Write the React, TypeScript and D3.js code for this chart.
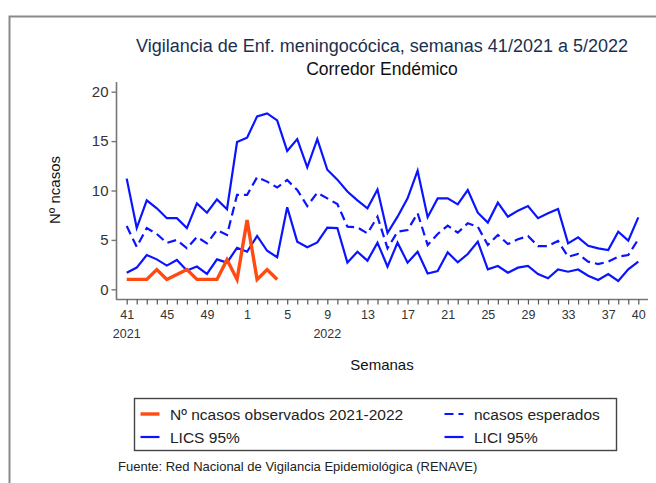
import React, { useEffect, useRef } from 'react';
import * as d3 from 'd3';

// Semanas epidemiológicas: 41-52 de 2021 y 1-40 de 2022
const weeks2021 = d3.range(41, 53);
const weeks2022 = d3.range(1, 41);
const weekLabels = [...weeks2021, ...weeks2022];
const majorTicks = [41, 45, 49, 1, 5, 9, 13, 17, 21, 25, 29, 33, 37, 40];

// Nº ncasos observados 2021-2022 (hasta semana 4/2022)
const observed = [1, 1, 1, 2, 1, 1.5, 2, 1, 1, 1, 3, 1, 7, 1, 2, 1];

// ncasos esperados
const expected = [
  6.4, 4.3, 6.2, 5.6, 4.7, 5.0, 4.15, 5.3, 4.65, 6.0, 5.5, 9.55,
  9.55, 11.35, 10.9, 10.3, 11.06, 10.05, 8.43, 9.78, 9.2, 8.63, 6.34, 6.27,
  5.66, 7.35, 4.15, 5.83, 6.0, 7.7, 4.48, 5.6, 6.44, 5.73, 6.68, 6.34,
  4.48, 5.5, 4.58, 5.06, 5.39, 4.38, 4.38, 4.89, 3.3, 3.57, 2.8, 2.56,
  2.8, 3.3, 3.47, 5.06
];

// LICS 95%
const lics = [
  11.2, 6.2, 9.0, 8.2, 7.2, 7.2, 6.2, 8.7, 7.75, 9.1, 8.1, 14.9,
  15.35, 17.5, 17.8, 17.1, 14.0, 15.2, 12.35, 15.2, 12.1, 11.1, 9.9, 9.0,
  8.2, 10.1, 5.7, 7.35, 9.2, 12.0, 7.3, 9.2, 9.2, 8.6, 10.05, 7.75,
  6.75, 8.77, 7.35, 7.96, 8.43, 7.2, 7.7, 8.13, 4.65, 5.26, 4.4, 4.15,
  3.98, 5.83, 4.92, 7.28
];

// LICI 95%
const lici = [
  1.68, 2.2, 3.47, 3.03, 2.4, 2.97, 1.9, 2.3, 1.55, 3.03, 2.7, 4.2,
  3.8, 5.4, 3.9, 3.24, 8.3, 4.82, 4.25, 4.75, 6.24, 6.2, 2.7, 3.8,
  2.9, 4.72, 2.3, 4.72, 2.7, 3.8, 1.6, 1.85, 3.74, 2.73, 3.57, 4.82,
  2.02, 2.36, 1.68, 2.19, 2.36, 1.55, 1.11, 2.02, 1.78, 2.0, 1.38, 0.94,
  1.55, 0.84, 2.02, 2.8
];

const yTicks = [0, 5, 10, 15, 20];

const BLUE = '#0a14ff';
const ORANGE = '#ff4a12';
const FONT = '"Liberation Sans", Arial, Helvetica, sans-serif';

const App = () => {
  const ref = useRef<SVGSVGElement | null>(null);

  useEffect(() => {
    if (!ref.current) return;
    const svg = d3.select(ref.current);
    svg.selectAll('*').remove();

    // Marco exterior del gráfico (recortado a la derecha y abajo)
    svg.append('rect')
      .attr('x', 9.5)
      .attr('y', 16.5)
      .attr('width', 700)
      .attr('height', 500)
      .attr('fill', 'white')
      .attr('stroke', '#8a8a8a')
      .attr('stroke-width', 2);

    // Escalas
    const x = d3.scaleLinear().domain([0, weekLabels.length - 1]).range([126.7, 638.3]);
    const y = d3.scaleLinear().domain([0, 20]).range([289.3, 91.7]);
    const plotCenter = 382;

    // Títulos (centrados sobre la región del gráfico)
    svg.append('text')
      .attr('x', plotCenter)
      .attr('y', 52)
      .attr('text-anchor', 'middle')
      .style('font-family', FONT)
      .style('font-size', '18px')
      .attr('fill', '#1c2f4f')
      .text('Vigilancia de Enf. meningocócica, semanas 41/2021 a 5/2022');

    svg.append('text')
      .attr('x', plotCenter)
      .attr('y', 75)
      .attr('text-anchor', 'middle')
      .style('font-family', FONT)
      .style('font-size', '17.5px')
      .attr('fill', '#111')
      .text('Corredor Endémico');

    // Eje Y
    const yAxis = svg.append('g')
      .attr('transform', 'translate(116.5, 0)')
      .call(d3.axisLeft(y).tickValues(yTicks).tickSize(5).tickPadding(3).tickSizeOuter(0));
    yAxis.select('.domain').attr('d', `M0,82V299.5`).attr('stroke', '#777').attr('stroke-width', 1.6);
    yAxis.selectAll('.tick line').attr('stroke', '#777').attr('stroke-width', 1.4);
    yAxis.selectAll('.tick text')
      .style('font-family', FONT)
      .style('font-size', '15px')
      .attr('fill', '#333');

    // Eje X
    const idx = d3.range(weekLabels.length);
    const xAxis = svg.append('g')
      .attr('transform', 'translate(0, 299.5)')
      .call(d3.axisBottom(x)
        .tickValues(idx)
        .tickSize(5)
        .tickPadding(6)
        .tickFormat((d: any) => {
          const i = +d;
          const w = weekLabels[i];
          if (w === 40 && i !== weekLabels.length - 1) return '';
          return majorTicks.includes(w) ? String(w) : '';
        }));
    xAxis.select('.domain').attr('d', 'M116,0H648').attr('stroke', '#777').attr('stroke-width', 1.6);
    xAxis.selectAll('.tick line').attr('stroke', '#555').attr('stroke-width', 1.2);
    xAxis.selectAll('.tick text')
      .style('font-family', FONT)
      .style('font-size', '12.5px')
      .attr('fill', '#333');

    // Años bajo las etiquetas
    [{ i: 0, label: '2021' }, { i: weeks2021.length + 8, label: '2022' }].forEach(d => {
      svg.append('text')
        .attr('x', x(d.i))
        .attr('y', 338)
        .attr('text-anchor', 'middle')
        .style('font-family', FONT)
        .style('font-size', '12.5px')
        .attr('fill', '#333')
        .text(d.label);
    });

    // Títulos de ejes
    svg.append('text')
      .attr('x', plotCenter)
      .attr('y', 370)
      .attr('text-anchor', 'middle')
      .style('font-family', FONT)
      .style('font-size', '15px')
      .attr('fill', '#111')
      .text('Semanas');

    svg.append('text')
      .attr('transform', 'translate(60, 190) rotate(-90)')
      .attr('text-anchor', 'middle')
      .style('font-family', FONT)
      .style('font-size', '15px')
      .attr('fill', '#111')
      .text('Nº ncasos');

    // Líneas
    const line = d3.line<number>()
      .x((d, i) => x(i))
      .y(d => y(d));

    const series = [
      { data: lics, color: BLUE, width: 2.2, dash: null },
      { data: lici, color: BLUE, width: 2.2, dash: null },
      { data: expected, color: BLUE, width: 2.2, dash: '9,5' },
      { data: observed, color: ORANGE, width: 3.4, dash: null }
    ];

    series.forEach(s => {
      svg.append('path')
        .datum(s.data)
        .attr('fill', 'none')
        .attr('stroke', s.color)
        .attr('stroke-width', s.width)
        .attr('stroke-linejoin', 'miter')
        .attr('stroke-dasharray', s.dash)
        .attr('d', line);
    });

    // Leyenda
    const legend = svg.append('g');
    legend.append('rect')
      .attr('x', 134.5)
      .attr('y', 398.5)
      .attr('width', 482)
      .attr('height', 52)
      .attr('fill', 'white')
      .attr('stroke', '#444')
      .attr('stroke-width', 1.4);

    const items = [
      { label: 'Nº ncasos observados 2021-2022', color: ORANGE, width: 3.4, dash: null, lx: 140.5, ly: 414 },
      { label: 'ncasos esperados', color: BLUE, width: 2.2, dash: '9,5', lx: 444.5, ly: 414 },
      { label: 'LICS 95%', color: BLUE, width: 2.2, dash: null, lx: 140.5, ly: 437 },
      { label: 'LICI 95%', color: BLUE, width: 2.2, dash: null, lx: 444.5, ly: 437 }
    ];

    items.forEach(it => {
      legend.append('line')
        .attr('x1', it.lx)
        .attr('x2', it.lx + 19)
        .attr('y1', it.ly)
        .attr('y2', it.ly)
        .attr('stroke', it.color)
        .attr('stroke-width', it.width)
        .attr('stroke-dasharray', it.dash);
      legend.append('text')
        .attr('x', it.lx + 29.5)
        .attr('y', it.ly + 5.5)
        .style('font-family', FONT)
        .style('font-size', '15.5px')
        .attr('fill', '#222')
        .text(it.label);
    });

    // Fuente
    svg.append('text')
      .attr('x', 118)
      .attr('y', 471)
      .style('font-family', FONT)
      .style('font-size', '13px')
      .attr('fill', '#222')
      .text('Fuente: Red Nacional de Vigilancia Epidemiológica (RENAVE)');
  }, []);

  return (
    <svg
      ref={ref}
      width={656}
      height={483}
      style={{ position: 'absolute', left: 0, top: 0, background: 'white' }}
    />
  );
};

export default App;
